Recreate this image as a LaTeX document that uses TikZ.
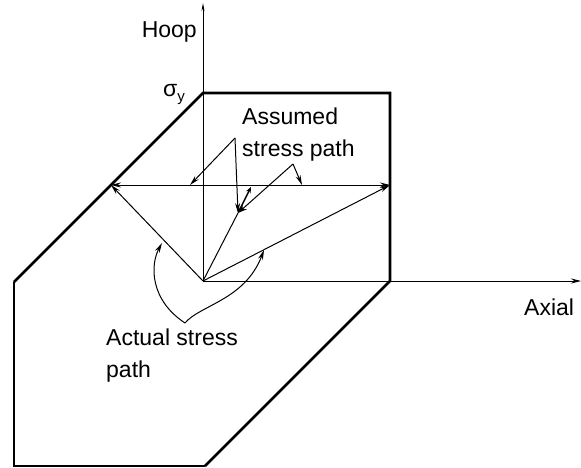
\documentclass[tikz,border=0pt]{standalone}
\usepackage{fontspec}
\setmainfont{Liberation Sans}
\usetikzlibrary{arrows.meta}
\begin{document}
\begin{tikzpicture}[x=1pt,y=-1pt,
  yieldline/.style={line width=2.6pt, line join=miter},
  edgeline/.style={line width=1.4pt},
  axisline/.style={line width=1pt},
  pathline/.style={line width=1pt},
  tip/.style={-{Stealth[length=10pt,width=5pt]}},
  lbl/.style={inner sep=0pt, font=\fontsize{23}{32}\selectfont, align=left}]
\useasboundingbox (0,0) rectangle (581,468);
% key points
\coordinate (O) at (203,281);
\coordinate (TL) at (203,93);
\coordinate (TR) at (390,93);
\coordinate (BR) at (390,281);
\coordinate (B) at (205,466);
\coordinate (BL) at (14,466);
\coordinate (L) at (14,282);
\coordinate (Ytop) at (203,3);
\coordinate (Xend) at (581,281);
\coordinate (P0) at (203,185);
\coordinate (P1) at (111,185);
\coordinate (P2) at (390,185);
\coordinate (Q) at (238,213);
\coordinate (A1) at (235,138);
\coordinate (A2) at (293,164);
\coordinate (H1) at (190,185);
\coordinate (H2) at (302,185);
\coordinate (R) at (251,187);
\coordinate (C) at (185,323);
\coordinate (T1) at (162,243);
\coordinate (T2) at (264,250);
% yield surface
\draw[yieldline] (L) -- (TL) -- (TR) -- (BR) -- (B);
\draw[edgeline] (B) -- (BL) -- (L);
% axes
\draw[axisline,-{Stealth[length=8pt,width=3pt]}] (O) -- (Ytop);
\draw[axisline,-{Stealth[length=10pt,width=5pt]}] (O) -- (Xend);
% assumed path
\draw[pathline,tip] (P0) -- (P1);
\draw[pathline,tip] (P0) -- (P2);
% actual paths
\draw[pathline,tip] (O) -- (P1);
\draw[pathline,tip] (O) -- (P2);
\draw[pathline] (O) -- (Q);
% assumed leaders
\draw[pathline,tip] (A1) -- (H1);
\draw[pathline,tip] (A1) -- (Q);
\draw[pathline,tip] (A2) -- (H2);
\draw[pathline,-{Stealth[length=9pt,width=6pt]}] (A2) -- (Q);
\draw[line width=1.4pt,{Stealth[length=6pt,width=5pt]}-{Stealth[length=6pt,width=5pt]}] (Q) -- (R);
% actual leaders
\draw[pathline,tip] (C) .. controls (150,300) and (150,265) .. (T1);
\draw[pathline,tip] (C) .. controls (200,305) and (245,300) .. (T2);
% labels
\node[lbl, anchor=base east] (hoop) at (197,38) {Hoop};
\node[lbl, anchor=base west] (sig) at (163,97) {σ\raisebox{-5pt}{\fontsize{15}{15}\selectfont y}};
\node[lbl, anchor=base west] (assumed) at (242,157) {Assumed\\stress path};
\node[lbl, anchor=base west] (actual) at (106,377) {Actual stress\\path};
\node[lbl, anchor=base west] (axial) at (524,315) {Axial};
\end{tikzpicture}
\end{document}
